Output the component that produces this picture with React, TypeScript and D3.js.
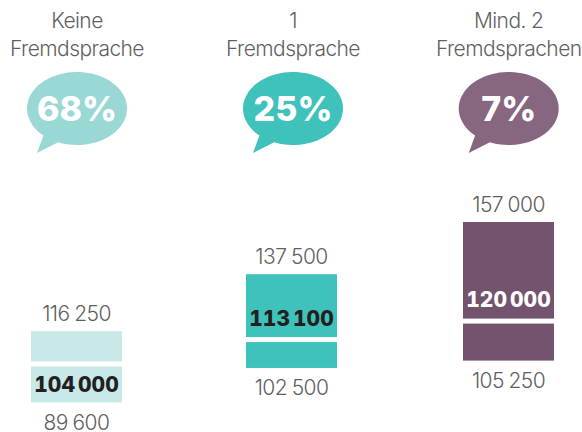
import React from "react";
import * as d3 from "d3";

const headerLine1 = ["Keine", "1", "Mind. 2"];
const headerLine2 = ["Fremdsprache", "Fremdsprache", "Fremdsprachen"];
const shares = [68, 25, 7];
const highValues = [116250, 137500, 157000];
const medianValues = [104000, 113100, 120000];
const lowValues = [89600, 102500, 105250];
const barColors = ["#c9e8e8", "#3fc1bc", "#74536e"];
const bubbleColors = ["#9ad8d6", "#3fc1bc", "#87677f"];
const medianTextColors = ["#231f20", "#231f20", "#ffffff"];

const W = 582;
const H = 432;
const y = d3.scaleLinear().domain([89600, 157000]).range([402.5, 222]);
const barX = d3.scalePoint<number>().domain([0, 1, 2]).range([76.5, 508.5]);
const offsetsX = [0, -1, 0];
const bubbleCenters = [77, 293, 508.7];
const barW = 91;

const fmt = (v: number, space: string) => {
  const s = String(v);
  return s.slice(0, -3) + space + s.slice(-3);
};

function bubblePath(cx: number) {
  const cy = 108.5, rx = 50, ry = 36.5;
  const a1 = Math.atan2((142.6 - cy) / ry, (58 - 77) / rx);
  const a2 = Math.atan2((135.5 - cy) / ry, (43.5 - 77) / rx);
  const end = a2 < a1 ? a2 + 2 * Math.PI : a2;
  const n = 80;
  const pts: [number, number][] = d3.range(n + 1).map((i) => {
    const t = a1 - ((2 * Math.PI - (end - a1)) * i) / n;
    return [cx + rx * Math.cos(t), cy + ry * Math.sin(t)];
  });
  return `${d3.line()(pts)}L${cx - 40},153Z`;
}

const FONT = "Inter, sans-serif";

const lightProps = {
  textAnchor: "middle" as const,
  fontFamily: FONT,
  fontWeight: 300,
  fontSize: 21,
  letterSpacing: -0.58,
  fill: "#5f5f5f",
};

export default function App() {
  return (
    <svg
      width={W}
      height={H}
      viewBox={`0 0 ${W} ${H}`}
      style={{ position: "absolute", left: 0, top: 0, background: "#fff" }}
    >
      {shares.map((share, i) => {
        const cx = barX(i)! + offsetsX[i];
        const bx = cx - barW / 2;
        const top = y(highValues[i]);
        const bottom = y(lowValues[i]);
        const med = y(medianValues[i]);
        const below = med - top < 40;
        return (
          <g key={i}>
            <text x={bubbleCenters[i]} y={27.5} {...lightProps}>
              {headerLine1[i]}
            </text>
            <text x={bubbleCenters[i]} y={55.5} {...lightProps}>
              {headerLine2[i]}
            </text>
            <path d={bubblePath(bubbleCenters[i])} fill={bubbleColors[i]} />
            <text
              x={bubbleCenters[i]}
              y={121}
              textAnchor="middle"
              fontFamily={FONT}
              fontWeight={800}
              fontSize={34}
              fill="#fff"
            >
              {share}%
            </text>
            <rect x={bx} y={top} width={barW} height={bottom - top} fill={barColors[i]} />
            <rect x={bx} y={med - 2.5} width={barW} height={5} fill="#fff" />
            <text x={cx} y={top - 10.5} {...lightProps}>
              {fmt(highValues[i], "\u2005")}
            </text>
            <text x={cx} y={bottom + 27.5} {...lightProps}>
              {fmt(lowValues[i], "\u2005")}
            </text>
            <text
              x={cx}
              y={below ? med + 28.5 : med - 14}
              textAnchor="middle"
              fontFamily={FONT}
              fontWeight={800}
              fontSize={21}
              fill={medianTextColors[i]}
              style={{ fontVariantNumeric: "tabular-nums" }}
            >
              {fmt(medianValues[i], "\u2009")}
            </text>
          </g>
        );
      })}
    </svg>
  );
}
